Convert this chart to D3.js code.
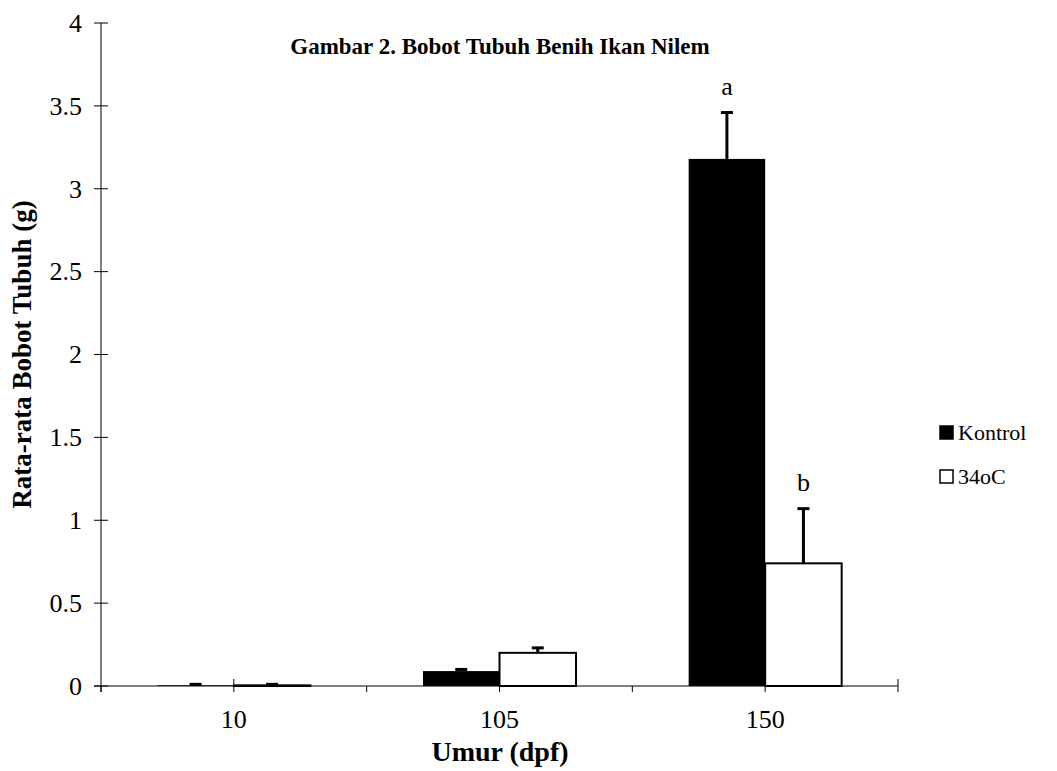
<!DOCTYPE html>
<html>
<head>
<meta charset="utf-8">
<script src="https://cdn.jsdelivr.net/npm/d3@7"></script>
<style>
  body { margin: 0; background: #fff; }
  text { font-family: "Liberation Serif", "Times New Roman", serif; fill: #000; }
</style>
</head>
<body>
<svg id="chart"></svg>
<script>
// Data
const categories = ["10", "105", "150"];
const seriesNames = ["Kontrol", "34oC"];
const kontrolValues = [0.004, 0.09, 3.18];
const kontrolErrors = [0.006, 0.01, 0.28];
const suhuValues = [0.004, 0.2, 0.74];
const suhuErrors = [0.006, 0.03, 0.33];
const notations = [
    { cat: "150", series: "Kontrol", label: "a" },
    { cat: "150", series: "34oC", label: "b" }
];
const yTicks = [0, 0.5, 1, 1.5, 2, 2.5, 3, 3.5, 4];

// Configuration
const W = 1057, H = 771;
const plot = { left: 101, right: 898, top: 23, bottom: 686 };
const fontSize = 26;

const svg = d3.select("#chart").attr("width", W).attr("height", H);

// Scales
const x0 = d3.scaleBand()
    .domain(categories)
    .range([plot.left, plot.right])
    .padding(0);

const gap = x0.bandwidth() * 0.212;
const x1 = d3.scaleBand()
    .domain(seriesNames)
    .range([gap, x0.bandwidth() - gap])
    .padding(0);

const y = d3.scaleLinear()
    .domain([0, 4])
    .range([plot.bottom, plot.top]);

// Build rows
const rows = [];
categories.forEach((c, i) => {
    rows.push({ cat: c, series: "Kontrol", value: kontrolValues[i], err: kontrolErrors[i] });
    rows.push({ cat: c, series: "34oC", value: suhuValues[i], err: suhuErrors[i] });
});
const fills = { "Kontrol": "#000", "34oC": "#fff" };

// Bars
svg.append("g").selectAll("rect")
    .data(rows)
    .join("rect")
    .attr("x", d => x0(d.cat) + x1(d.series))
    .attr("y", d => y(d.value))
    .attr("width", x1.bandwidth())
    .attr("height", d => y(0) - y(d.value))
    .attr("fill", d => fills[d.series])
    .attr("stroke", "#000")
    .attr("stroke-width", d => d.series === "34oC" ? 2 : 0);

// Error bars
const eb = svg.append("g");
const cx = d => x0(d.cat) + x1(d.series) + x1.bandwidth() / 2;
eb.selectAll("line.stem")
    .data(rows)
    .join("line")
    .attr("class", "stem")
    .attr("x1", cx).attr("x2", cx)
    .attr("y1", d => y(d.value))
    .attr("y2", d => y(d.value + d.err))
    .attr("stroke", "#000")
    .attr("stroke-width", 3);
eb.selectAll("line.cap")
    .data(rows)
    .join("line")
    .attr("class", "cap")
    .attr("x1", d => cx(d) - 6).attr("x2", d => cx(d) + 6)
    .attr("y1", d => y(d.value + d.err))
    .attr("y2", d => y(d.value + d.err))
    .attr("stroke", "#000")
    .attr("stroke-width", 3);

// Notation letters
svg.append("g").selectAll("text")
    .data(notations)
    .join("text")
    .attr("x", d => cx(d))
    .attr("y", d => {
        const r = rows.find(r => r.cat === d.cat && r.series === d.series);
        return y(r.value + r.err) - 18;
    })
    .attr("text-anchor", "middle")
    .attr("font-size", fontSize)
    .text(d => d.label);

// Y axis
const yAxis = svg.append("g").attr("transform", `translate(${plot.left},0)`);
yAxis.append("line")
    .attr("y1", y(4)).attr("y2", y(0) + 6)
    .attr("stroke", "#000");
yAxis.selectAll("line.tick")
    .data(yTicks)
    .join("line")
    .attr("class", "tick")
    .attr("x1", -7).attr("x2", 7)
    .attr("y1", d => y(d)).attr("y2", d => y(d))
    .attr("stroke", "#000");
yAxis.selectAll("text")
    .data(yTicks)
    .join("text")
    .attr("x", -19)
    .attr("y", d => y(d))
    .attr("dy", "0.34em")
    .attr("text-anchor", "end")
    .attr("font-size", fontSize)
    .text(d => d);

// X axis
const xAxis = svg.append("g");
xAxis.append("line")
    .attr("x1", plot.left - 7).attr("x2", plot.right)
    .attr("y1", y(0)).attr("y2", y(0))
    .attr("stroke", "#000");
const xTickPos = [];
categories.forEach(c => {
    xTickPos.push(x0(c));
    xTickPos.push(x0(c) + x0.bandwidth() / 2);
});
xTickPos.push(plot.right);
xAxis.selectAll("line.tick")
    .data(xTickPos)
    .join("line")
    .attr("class", "tick")
    .attr("x1", d => d).attr("x2", d => d)
    .attr("y1", (d, i) => (i === 1 || i === xTickPos.length - 1) ? y(0) - 7 : y(0))
    .attr("y2", y(0) + 6)
    .attr("stroke", "#000");
xAxis.selectAll("text")
    .data(categories)
    .join("text")
    .attr("x", d => x0(d) + x0.bandwidth() / 2)
    .attr("y", 728)
    .attr("text-anchor", "middle")
    .attr("font-size", fontSize)
    .text(d => d);

// Titles
svg.append("text")
    .attr("x", 500).attr("y", 54)
    .attr("text-anchor", "middle")
    .attr("font-size", 23)
    .attr("font-weight", "bold")
    .text("Gambar 2. Bobot Tubuh Benih Ikan Nilem");

svg.append("text")
    .attr("x", 500).attr("y", 761)
    .attr("text-anchor", "middle")
    .attr("font-size", 28)
    .attr("font-weight", "bold")
    .text("Umur (dpf)");

svg.append("text")
    .attr("transform", `translate(31,${(plot.top + plot.bottom) / 2}) rotate(-90)`)
    .attr("text-anchor", "middle")
    .attr("font-size", 27)
    .attr("font-weight", "bold")
    .text("Rata-rata Bobot Tubuh (g)");

// Legend
const legend = svg.append("g");
const legendY = [433, 477];
seriesNames.forEach((s, i) => {
    legend.append("rect")
        .attr("x", 940).attr("y", legendY[i] - 7)
        .attr("width", 13).attr("height", 13)
        .attr("fill", fills[s])
        .attr("stroke", "#000")
        .attr("stroke-width", 1.5);
    legend.append("text")
        .attr("x", 958).attr("y", legendY[i])
        .attr("dy", "0.34em")
        .attr("font-size", 22)
        .text(s);
});
</script>
</body>
</html>
